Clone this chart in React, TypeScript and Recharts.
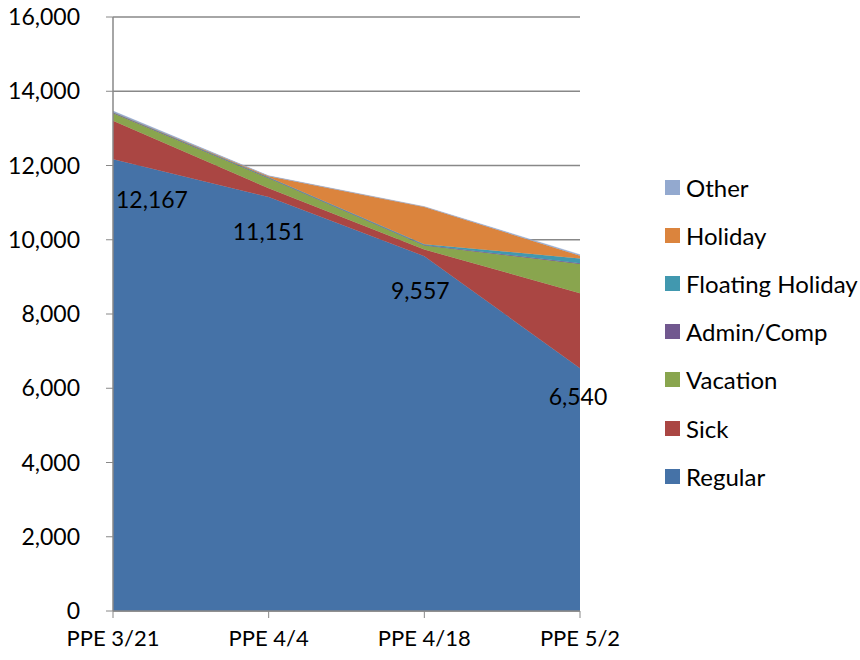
import React from 'react';
import { AreaChart, Area, XAxis, YAxis, CartesianGrid, Legend, LabelList } from 'recharts';

const categories = ['PPE 3/21', 'PPE 4/4', 'PPE 4/18', 'PPE 5/2'];
const regular = [12167, 11151, 9557, 6540];
const sick = [1040, 235, 180, 2017];
const vacation = [200, 270, 110, 790];
const adminComp = [20, 15, 10, 20];
const floatingHoliday = [10, 10, 25, 130];
const holiday = [0, 30, 1000, 70];
const other = [30, 10, 10, 30];
const yTicks = [0, 2000, 4000, 6000, 8000, 10000, 12000, 14000, 16000];

const seriesNames = ['Regular', 'Sick', 'Vacation', 'Admin/Comp', 'Floating Holiday', 'Holiday', 'Other'];
const seriesKeys = ['regular', 'sick', 'vacation', 'adminComp', 'floatingHoliday', 'holiday', 'other'];
const seriesColors = ['#4572A7', '#AA4643', '#89A54E', '#71588F', '#4198AF', '#DB843D', '#93A9CF'];
const seriesValues = [regular, sick, vacation, adminComp, floatingHoliday, holiday, other];

const data = categories.map((c, i) => {
  const row: Record<string, string | number> = { name: c };
  seriesKeys.forEach((k, s) => {
    row[k] = seriesValues[s][i];
  });
  return row;
});

const FONT = 'Lato, "Open Sans", sans-serif';

const fmt = (v: number) => v.toLocaleString('en-US');

const labelDx = [39, 0, -4, -2];
const labelDy = [49, 43, 43, 37];

const RegularLabel = (props: any) => {
  const { x, y, value, index } = props;
  return (
    <text
      x={x + labelDx[index]}
      y={y + labelDy[index]}
      textAnchor="middle"
      fill="#000"
      fontSize={23}
      fontFamily={FONT}
    >
      {fmt(value)}
    </text>
  );
};

const LegendContent = () => {
  const items = seriesNames.map((n, i) => ({ n, c: seriesColors[i] })).reverse();
  return (
    <div style={{ fontFamily: FONT, fontSize: 24, color: '#000' }}>
      {items.map((it) => (
        <div key={it.n} style={{ display: 'flex', alignItems: 'center', height: 48.2, whiteSpace: 'nowrap' }}>
          <span style={{ display: 'inline-block', width: 15, height: 15, background: it.c, marginRight: 6, flex: 'none' }} />
          <span>{it.n}</span>
        </div>
      ))}
    </div>
  );
};

export default function App() {
  return (
    <div style={{ position: 'absolute', left: 0, top: 0, width: 860, height: 660, background: '#fff' }}>
      <AreaChart
        width={860}
        height={660}
        data={data}
        margin={{ top: 17, right: 85, bottom: 19, left: 0 }}
      >
        <CartesianGrid horizontal vertical={false} stroke="#888888" strokeWidth={1.5} />
        <XAxis
          dataKey="name"
          height={30}
          tickLine={{ stroke: '#888888' }}
          axisLine={{ stroke: '#888888', strokeWidth: 1.5 }}
          tick={{ fill: '#000', fontSize: 22, fontFamily: FONT }}
          tickSize={7}
          tickMargin={12}
          interval={0}
        />
        <YAxis
          width={113}
          domain={[0, 16000]}
          ticks={yTicks}
          tickFormatter={fmt}
          tickLine={{ stroke: '#888888' }}
          axisLine={{ stroke: '#888888', strokeWidth: 1.5 }}
          tick={{ fill: '#000', fontSize: 23, fontFamily: FONT }}
          tickSize={7}
          tickMargin={26}
        />
        <Legend
          layout="vertical"
          align="right"
          verticalAlign="top"
          content={<LegendContent />}
          wrapperStyle={{ position: 'absolute', left: 665, top: 163, width: 195 }}
        />
        {seriesKeys.map((k, s) => (
          <Area
            key={k}
            type="linear"
            dataKey={k}
            name={seriesNames[s]}
            stackId="a"
            stroke={seriesColors[s]}
            strokeWidth={0.5}
            fill={seriesColors[s]}
            fillOpacity={1}
            isAnimationActive={false}
            dot={false}
            activeDot={false}
          >
            {k === 'regular' ? <LabelList dataKey="regular" content={<RegularLabel />} /> : null}
          </Area>
        ))}
      </AreaChart>
    </div>
  );
}
